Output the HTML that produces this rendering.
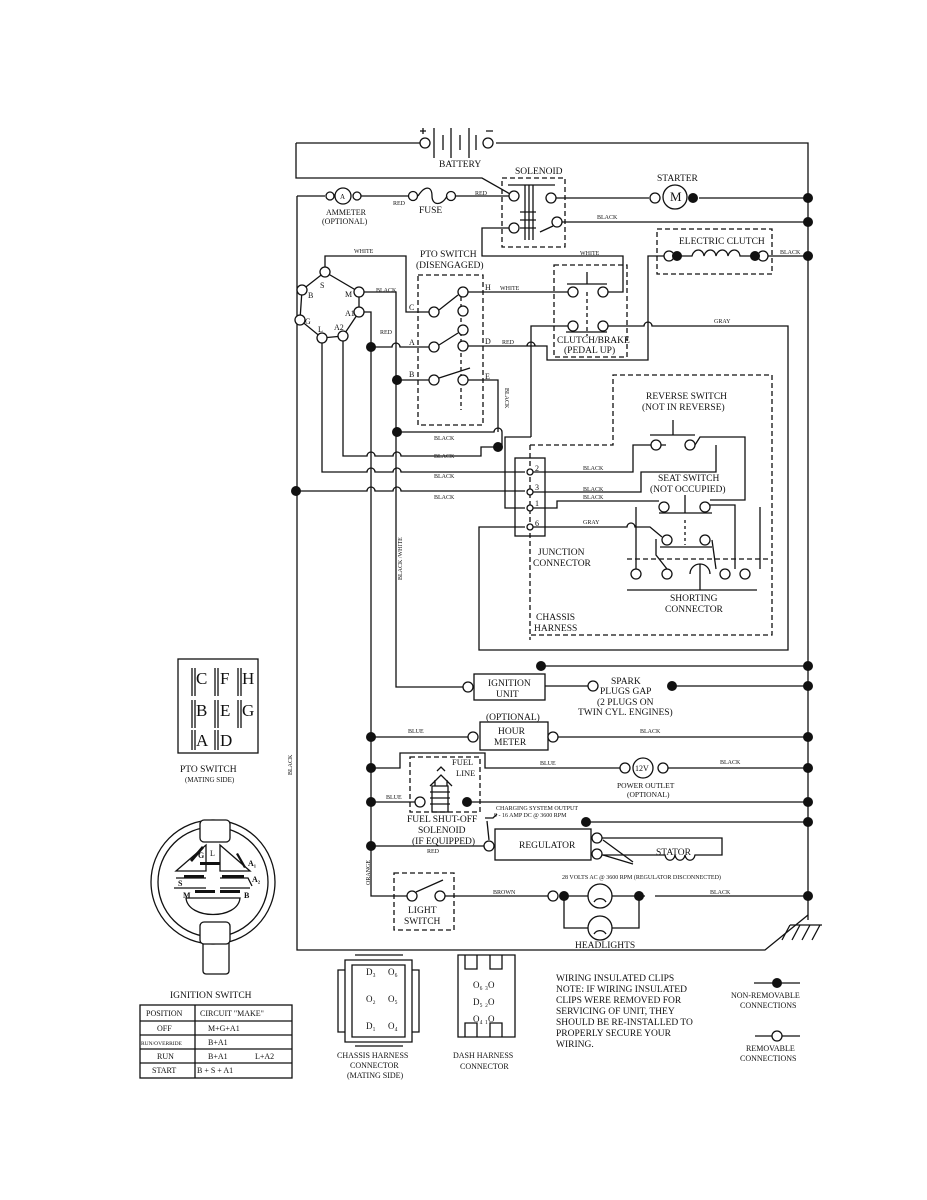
<!DOCTYPE html>
<html><head><style>
body{margin:0;background:#fff}
svg{display:block}
text{font-family:"Liberation Serif",serif;fill:#111}
.t{font-size:9.5px}
.s{font-size:6px}
</style></head><body>
<svg width="927" height="1200" viewBox="0 0 927 1200" xmlns="http://www.w3.org/2000/svg">
<g fill="none" stroke="#111" stroke-width="1.3">
<path d="M296 143H420M496 143H808V920"/>
<path d="M296 143V178H482L510 194"/>
<path d="M297 196V950H765L808 915"/>
<circle cx="425" cy="143" r="5" fill="#fff"/><circle cx="488" cy="143" r="5" fill="#fff"/>
<path d="M434 128V158M443 135V150M451 128V158M460 135V150M469 128V158M476 135V150"/>
<path d="M420 131h6M423 128v6M486 131h7"/>
<path d="M297 196H325M360 196H409M456 196H509"/>
<circle cx="330" cy="196" r="4" fill="#fff"/><circle cx="343" cy="196" r="8"/><circle cx="357" cy="196" r="4" fill="#fff"/>
<circle cx="413" cy="196" r="4.5" fill="#fff"/><circle cx="451" cy="196" r="4.5" fill="#fff"/>
<path d="M418 196C425 185 432 186 432 196S442 206 447 196"/>
<rect x="502" y="178" width="63" height="69" stroke-dasharray="5,3"/>
<path d="M508 185H555M525 185V240M529 185V240M533 185V240"/>
<path d="M520 212h16M520 220h16M520 228h16"/>
<circle cx="514" cy="196" r="5" fill="#fff"/><circle cx="551" cy="198" r="5" fill="#fff"/>
<circle cx="514" cy="228" r="5" fill="#fff"/><circle cx="557" cy="222" r="5" fill="#fff"/>
<path d="M540 232L553 226"/>
<path d="M556 198H649M699 198H808M562 222H808"/>
<circle cx="655" cy="198" r="5" fill="#fff"/><circle cx="675" cy="197" r="12"/>
<path d="M509 228H482V256H623V292H608"/>
<rect x="657" y="229" width="115" height="45" stroke-dasharray="5,3"/>
<path d="M681 256H692C694 248 703 248 704 256C706 248 715 248 716 256C718 248 727 248 728 256C730 248 739 248 740 256H758M768 256H808"/>
<circle cx="669" cy="256" r="5" fill="#fff"/><circle cx="763" cy="256" r="5" fill="#fff"/>
<path d="M664 256H648V360H547V346H468"/>
<path d="M527 346a4 4 0 0 1 8 0"/>
<rect x="554" y="265" width="73" height="92" stroke-dasharray="5,3"/>
<path d="M567 284H607M587 272V284"/>
<path d="M587 292V336" stroke-dasharray="4,3"/>
<circle cx="573" cy="292" r="5" fill="#fff"/><circle cx="603" cy="292" r="5" fill="#fff"/>
<circle cx="573" cy="326" r="5" fill="#fff"/><circle cx="603" cy="326" r="5" fill="#fff"/>
<path d="M566 332H607"/>
<path d="M468 292H568"/>
<path d="M568 326H531V437"/>
<path d="M608 326H644a4 4 0 0 1 8 0H788V650H479V527H525"/>
<path d="M302 290L325 272L359 292L359 312L343 336L322 338L300 320Z"/>
<circle cx="325" cy="272" r="5" fill="#fff"/><circle cx="302" cy="290" r="5" fill="#fff"/>
<circle cx="359" cy="292" r="5" fill="#fff"/><circle cx="359" cy="312" r="5" fill="#fff"/>
<circle cx="300" cy="320" r="5" fill="#fff"/><circle cx="322" cy="338" r="5" fill="#fff"/>
<circle cx="343" cy="336" r="5" fill="#fff"/>
<path d="M325 267V256H406V312H429"/>
<path d="M364 292H396V687H463"/>
<path d="M364 312H371V896H407"/>
<path d="M371 347H392a4 4 0 0 1 8 0H429"/>
<path d="M397 380H429M397 432H494a4 4 0 0 1 8 0V447"/>
<path d="M468 380H498V432"/>
<rect x="418" y="275" width="65" height="150" stroke-dasharray="5,3"/>
<path d="M461 290V410" stroke-dasharray="4,3"/>
<circle cx="434" cy="312" r="5" fill="#fff"/><circle cx="463" cy="292" r="5" fill="#fff"/>
<circle cx="463" cy="311" r="5" fill="#fff"/><circle cx="463" cy="330" r="5" fill="#fff"/>
<circle cx="434" cy="347" r="5" fill="#fff"/><circle cx="463" cy="346" r="5" fill="#fff"/>
<circle cx="434" cy="380" r="5" fill="#fff"/><circle cx="463" cy="380" r="5" fill="#fff"/>
<path d="M439 310L458 295M439 345L458 333M439 378L470 368"/>
<path d="M322 343V472H367a4 4 0 0 1 8 0H393a4 4 0 0 1 8 0H525"/>
<path d="M343 341V456H367a4 4 0 0 1 8 0H393a4 4 0 0 1 8 0H481V447H498"/>
<path d="M296 491H367a4 4 0 0 1 8 0H393a4 4 0 0 1 8 0H525"/>
<path d="M531 437H505V508H525"/>
<rect x="515" y="458" width="30" height="78"/>
<path d="M530 445V640" stroke-dasharray="5,3"/>
<circle cx="530" cy="472" r="3" fill="#fff"/><circle cx="530" cy="492" r="3" fill="#fff"/>
<circle cx="530" cy="508" r="3" fill="#fff"/><circle cx="530" cy="527" r="3" fill="#fff"/>
<path d="M530 445H613V375H772V635H530" stroke-dasharray="5,3"/>
<path d="M533 472H633V445H651M661 445H666M650 435H695M673 435V420M695 445L700 437H745V500H710"/>
<path d="M533 492H641V472H716V445"/>
<path d="M533 508H557V501H659"/>
<circle cx="656" cy="445" r="5" fill="#fff"/><circle cx="690" cy="445" r="5" fill="#fff"/>
<circle cx="664" cy="507" r="5" fill="#fff"/><circle cx="705" cy="507" r="5" fill="#fff"/>
<circle cx="667" cy="540" r="5" fill="#fff"/><circle cx="705" cy="540" r="5" fill="#fff"/>
<path d="M659 513H712M685 495V513M660 547H712"/>
<path d="M685 520V545" stroke-dasharray="3,3"/>
<path d="M533 527H627a4 4 0 0 1 8 0H650L662 537"/>
<path d="M627 559H770" stroke-dasharray="5,3"/>
<path d="M636 507V569M656 539V555L667 569M710 505H735V569M712 540L716 569M760 507V569"/>
<circle cx="636" cy="574" r="5" fill="#fff"/><circle cx="667" cy="574" r="5" fill="#fff"/>
<circle cx="725" cy="574" r="5" fill="#fff"/><circle cx="745" cy="574" r="5" fill="#fff"/>
<path d="M690 574a10 10 0 0 1 20 0M700 564V590M627 590H757"/>
<rect x="474" y="674" width="71" height="26"/>
<circle cx="468" cy="687" r="5" fill="#fff"/>
<path d="M545 686H588"/><circle cx="593" cy="686" r="5" fill="#fff"/>
<path d="M672 686H808M541 666H808"/>
<rect x="480" y="722" width="68" height="28"/>
<path d="M371 737H468"/><circle cx="473" cy="737" r="5" fill="#fff"/>
<circle cx="553" cy="737" r="5" fill="#fff"/><path d="M558 737H808"/>
<path d="M371 768H400V753H485V768H620"/>
<circle cx="625" cy="768" r="5" fill="#fff"/><circle cx="643" cy="768" r="10"/><circle cx="663" cy="768" r="5" fill="#fff"/>
<path d="M668 768H808"/>
<rect x="410" y="757" width="70" height="55" stroke-dasharray="5,3"/>
<path d="M371 802H415M467 802H808"/>
<circle cx="420" cy="802" r="5" fill="#fff"/>
<path d="M432 786h16v26h-16zM430 792h20M430 798h20M430 804h20"/>
<path d="M430 786L441 775L452 786M435 786V780M447 786V780"/>
<path d="M437 771L441 767L445 771"/>
<rect x="495" y="829" width="96" height="31"/>
<path d="M371 846H484"/><circle cx="489" cy="846" r="5" fill="#fff"/>
<path d="M586 822H808"/>
<circle cx="597" cy="838" r="5" fill="#fff"/><circle cx="597" cy="854" r="5" fill="#fff"/>
<path d="M602 838H722V855H695C694 862 686 862 685 855C684 862 676 862 675 855C674 862 666 862 665 855H602"/>
<path d="M487 821L489 840M485 818H493L497 814"/>
<path d="M603 840L633 862M603 855L633 864"/>
<rect x="394" y="873" width="60" height="57" stroke-dasharray="5,3"/>
<circle cx="412" cy="896" r="5" fill="#fff"/><circle cx="440" cy="896" r="5" fill="#fff"/>
<path d="M416 892L443 880M445 896H548"/>
<circle cx="553" cy="896" r="5" fill="#fff"/>
<path d="M564 896H588M612 896H645M655 896H808M564 896V928H588M612 928H639V896"/>
<circle cx="600" cy="896" r="12"/><circle cx="600" cy="928" r="12"/>
<path d="M594 902a7 7 0 0 1 12 0M594 934a7 7 0 0 1 12 0"/>
<path d="M790 925H822M790 925L782 940M800 925L792 940M810 925L802 940M820 925L812 940"/>
<rect x="178" y="659" width="80" height="94"/>
<path d="M192 668v28M195 668v28M215 668v28M218 668v28M238 668v28M241 668v28M192 700v28M195 700v28M215 700v28M218 700v28M238 700v28M241 700v28M192 730v20M195 730v20M215 730v20M218 730v20"/>
<rect x="200" y="839" width="28" height="18" rx="4" fill="#fff"/>
<rect x="203" y="940" width="26" height="34" rx="3"/>
<circle cx="213" cy="882" r="62" fill="#fff"/><circle cx="213" cy="882" r="55"/>
<rect x="200" y="820" width="30" height="22" rx="4" fill="#fff"/>
<rect x="200" y="922" width="30" height="22" rx="4" fill="#fff"/>
<path d="M176 871L206 845V871ZM220 845L250 871H220Z"/>
<path d="M176 878H206M220 878H248L252 886M174 888H206M220 888H250"/>
<path d="M186 898H240C238 920 188 920 186 898Z"/>
</g>
<g fill="#111">
<circle cx="693" cy="198" r="5"/><circle cx="808" cy="198" r="5"/><circle cx="808" cy="222" r="5"/>
<circle cx="677" cy="256" r="5"/><circle cx="755" cy="256" r="5"/><circle cx="808" cy="256" r="5"/>
<circle cx="371" cy="347" r="5"/><circle cx="397" cy="380" r="5"/><circle cx="397" cy="432" r="5"/>
<circle cx="498" cy="447" r="5"/><circle cx="296" cy="491" r="5"/>
<circle cx="541" cy="666" r="5"/><circle cx="808" cy="666" r="5"/>
<circle cx="672" cy="686" r="5"/><circle cx="808" cy="686" r="5"/>
<circle cx="371" cy="737" r="5"/><circle cx="808" cy="737" r="5"/>
<circle cx="371" cy="768" r="5"/><circle cx="808" cy="768" r="5"/>
<circle cx="371" cy="802" r="5"/><circle cx="467" cy="802" r="5"/><circle cx="808" cy="802" r="5"/>
<circle cx="586" cy="822" r="5"/><circle cx="808" cy="822" r="5"/>
<circle cx="371" cy="846" r="5"/>
<circle cx="564" cy="896" r="5"/><circle cx="639" cy="896" r="5"/><circle cx="808" cy="896" r="5"/>
<rect x="184" y="875" width="20" height="3"/><rect x="222" y="875" width="22" height="3"/>
<rect x="195" y="890" width="20" height="3"/><rect x="220" y="890" width="20" height="3"/>
<rect x="200" y="862" width="20" height="3"/>
<path d="M190 860l12-14 2 2-12 14z"/><path d="M238 853l8 14-2 1-8-14z"/>
</g>
<g class="t">
<text x="439" y="167">BATTERY</text>
<text x="515" y="174">SOLENOID</text>
<text x="657" y="181">STARTER</text>
<text x="670" y="201" font-size="13">M</text>
<text x="340" y="199" font-size="7">A</text>
<text x="326" y="215" font-size="8">AMMETER</text>
<text x="322" y="224" font-size="8">(OPTIONAL)</text>
<text x="419" y="213">FUSE</text>
<text x="679" y="244">ELECTRIC CLUTCH</text>
<text x="420" y="257">PTO SWITCH</text>
<text x="416" y="268">(DISENGAGED)</text>
<text x="557" y="343">CLUTCH/BRAKE</text>
<text x="564" y="353">(PEDAL UP)</text>
<text x="646" y="399">REVERSE SWITCH</text>
<text x="642" y="410">(NOT IN REVERSE)</text>
<text x="658" y="481">SEAT SWITCH</text>
<text x="650" y="492">(NOT OCCUPIED)</text>
<text x="538" y="555">JUNCTION</text>
<text x="533" y="566">CONNECTOR</text>
<text x="536" y="620">CHASSIS</text>
<text x="534" y="631">HARNESS</text>
<text x="670" y="601">SHORTING</text>
<text x="665" y="612">CONNECTOR</text>
<text x="488" y="686">IGNITION</text>
<text x="496" y="697">UNIT</text>
<text x="611" y="684">SPARK</text>
<text x="600" y="694">PLUGS GAP</text>
<text x="597" y="705">(2 PLUGS ON</text>
<text x="578" y="715">TWIN CYL. ENGINES)</text>
<text x="486" y="720">(OPTIONAL)</text>
<text x="498" y="734">HOUR</text>
<text x="494" y="745">METER</text>
<text x="635" y="771" font-size="8">12V</text>
<text x="617" y="788" font-size="7.5">POWER OUTLET</text>
<text x="627" y="797" font-size="7.5">(OPTIONAL)</text>
<text x="452" y="765" font-size="8.5">FUEL</text>
<text x="456" y="776" font-size="8.5">LINE</text>
<text x="407" y="822">FUEL SHUT-OFF</text>
<text x="418" y="833">SOLENOID</text>
<text x="412" y="844">(IF EQUIPPED)</text>
<text x="519" y="848">REGULATOR</text>
<text x="656" y="855">STATOR</text>
<text x="408" y="913">LIGHT</text>
<text x="404" y="924">SWITCH</text>
<text x="575" y="948">HEADLIGHTS</text>
<text x="180" y="772">PTO SWITCH</text>
<text x="170" y="998">IGNITION SWITCH</text>
<text x="556" y="981">WIRING INSULATED CLIPS</text>
<text x="556" y="992">NOTE:  IF WIRING INSULATED</text>
<text x="556" y="1003">CLIPS WERE REMOVED FOR</text>
<text x="556" y="1014">SERVICING OF UNIT, THEY</text>
<text x="556" y="1025">SHOULD BE RE-INSTALLED TO</text>
<text x="556" y="1036">PROPERLY SECURE YOUR</text>
<text x="556" y="1047">WIRING.</text>
</g>
<g font-size="8">
<text x="731" y="998">NON-REMOVABLE</text>
<text x="740" y="1008">CONNECTIONS</text>
<text x="746" y="1051">REMOVABLE</text>
<text x="740" y="1061">CONNECTIONS</text>
<text x="337" y="1058">CHASSIS HARNESS</text>
<text x="350" y="1068">CONNECTOR</text>
<text x="347" y="1078">(MATING SIDE)</text>
<text x="453" y="1058">DASH HARNESS</text>
<text x="460" y="1069">CONNECTOR</text>
<text x="562" y="879" font-size="6">28 VOLTS AC @ 3600 RPM (REGULATOR DISCONNECTED)</text>
<text x="496" y="810" font-size="6">CHARGING SYSTEM OUTPUT</text>
<text x="494" y="817" font-size="6">9 - 16 AMP DC @ 3600 RPM</text>
<text x="185" y="782" font-size="7">(MATING SIDE)</text>
</g>
<g fill="none" stroke="#111" stroke-width="1.3">
<path d="M754 983H800M755 1036H800"/><circle cx="777" cy="1036" r="5" fill="#fff"/>
<path d="M345 960h67v82h-67zM352 965h53v72h-53zM338 970h7v62h-7zM412 970h7v62h-7zM355 955h48M355 1046h48"/>
<path d="M458 955h57v82h-57zM465 955v14h12v-14M490 955v14h12v-14M465 1037v-14h12v14M490 1037v-14h12v14"/>
<rect x="140" y="1005" width="152" height="73"/>
<path d="M140 1021H292M140 1035H292M140 1049H292M140 1063H292M195 1005V1078"/>
</g>
<circle cx="777" cy="983" r="5" fill="#111"/>
<g font-size="9">
<text x="366" y="975">D₃</text><text x="388" y="975">O₆</text>
<text x="366" y="1002">O₂</text><text x="388" y="1002">O₅</text>
<text x="366" y="1029">D₁</text><text x="388" y="1029">O₄</text>
<text x="473" y="988">O₆  ₃O</text><text x="473" y="1005">D₅  ₂O</text><text x="473" y="1022">O₄  ₁O</text>
<text x="146" y="1016" font-size="8">POSITION</text><text x="200" y="1016" font-size="8">CIRCUIT   "MAKE"</text>
<text x="157" y="1031" font-size="8">OFF</text><text x="208" y="1031" font-size="8">M+G+A1</text>
<text x="141" y="1045" font-size="5.5">RUN/OVERRIDE</text><text x="208" y="1045" font-size="8">B+A1</text>
<text x="157" y="1059" font-size="8">RUN</text><text x="208" y="1059" font-size="8">B+A1</text><text x="255" y="1059" font-size="8">L+A2</text>
<text x="152" y="1073" font-size="8">START</text><text x="197" y="1073" font-size="8">B + S + A1</text>
</g>
<g font-size="17">
<text x="196" y="684">C</text><text x="220" y="684">F</text><text x="242" y="684">H</text>
<text x="196" y="716">B</text><text x="220" y="716">E</text><text x="242" y="716">G</text>
<text x="196" y="746">A</text><text x="220" y="746">D</text>
</g>
<g font-size="8">
<text x="320" y="288">S</text><text x="308" y="298">B</text><text x="345" y="297">M</text>
<text x="345" y="316">A1</text><text x="305" y="324">G</text><text x="318" y="332">L</text><text x="334" y="330">A2</text>
<text x="409" y="310">C</text><text x="409" y="345">A</text><text x="409" y="377">B</text>
<text x="485" y="290">H</text><text x="485" y="344">D</text><text x="485" y="379">E</text>
<text x="535" y="471">2</text><text x="535" y="490">3</text><text x="535" y="506">1</text><text x="535" y="526">6</text>
<text x="178" y="886" font-family="Liberation Sans" font-weight="bold">S</text><text x="183" y="898" font-family="Liberation Sans" font-weight="bold">M</text>
<text x="198" y="858" font-family="Liberation Sans" font-weight="bold">G</text><text x="210" y="856" font-family="Liberation Sans">L</text><text x="248" y="866" font-family="Liberation Sans" font-weight="bold">A₁</text>
<text x="252" y="882" font-family="Liberation Sans" font-weight="bold">A₂</text><text x="244" y="898" font-family="Liberation Sans" font-weight="bold">B</text>
</g>
<g class="s">
<text x="475" y="195">RED</text><text x="393" y="205">RED</text>
<text x="597" y="219">BLACK</text><text x="780" y="254">BLACK</text>
<text x="354" y="253">WHITE</text><text x="580" y="255">WHITE</text>
<text x="376" y="292">BLACK</text><text x="500" y="290">WHITE</text>
<text x="380" y="334">RED</text><text x="502" y="344">RED</text>
<text x="714" y="323">GRAY</text>
<text x="434" y="440">BLACK</text><text x="434" y="458">BLACK</text><text x="434" y="478">BLACK</text><text x="434" y="499">BLACK</text>
<text x="583" y="470">BLACK</text><text x="583" y="491">BLACK</text><text x="583" y="499">BLACK</text><text x="583" y="524">GRAY</text>
<text x="408" y="733">BLUE</text><text x="640" y="733">BLACK</text>
<text x="540" y="765">BLUE</text><text x="720" y="764">BLACK</text>
<text x="386" y="799">BLUE</text><text x="427" y="853">RED</text>
<text x="493" y="894">BROWN</text><text x="710" y="894">BLACK</text>
<text transform="translate(505 388) rotate(90)">BLACK</text>
<text transform="translate(402 580) rotate(-90)">BLACK /WHITE</text>
<text transform="translate(292 775) rotate(-90)">BLACK</text>
<text transform="translate(370 885) rotate(-90)">ORANGE</text>
</g>
</svg>
</body></html>
